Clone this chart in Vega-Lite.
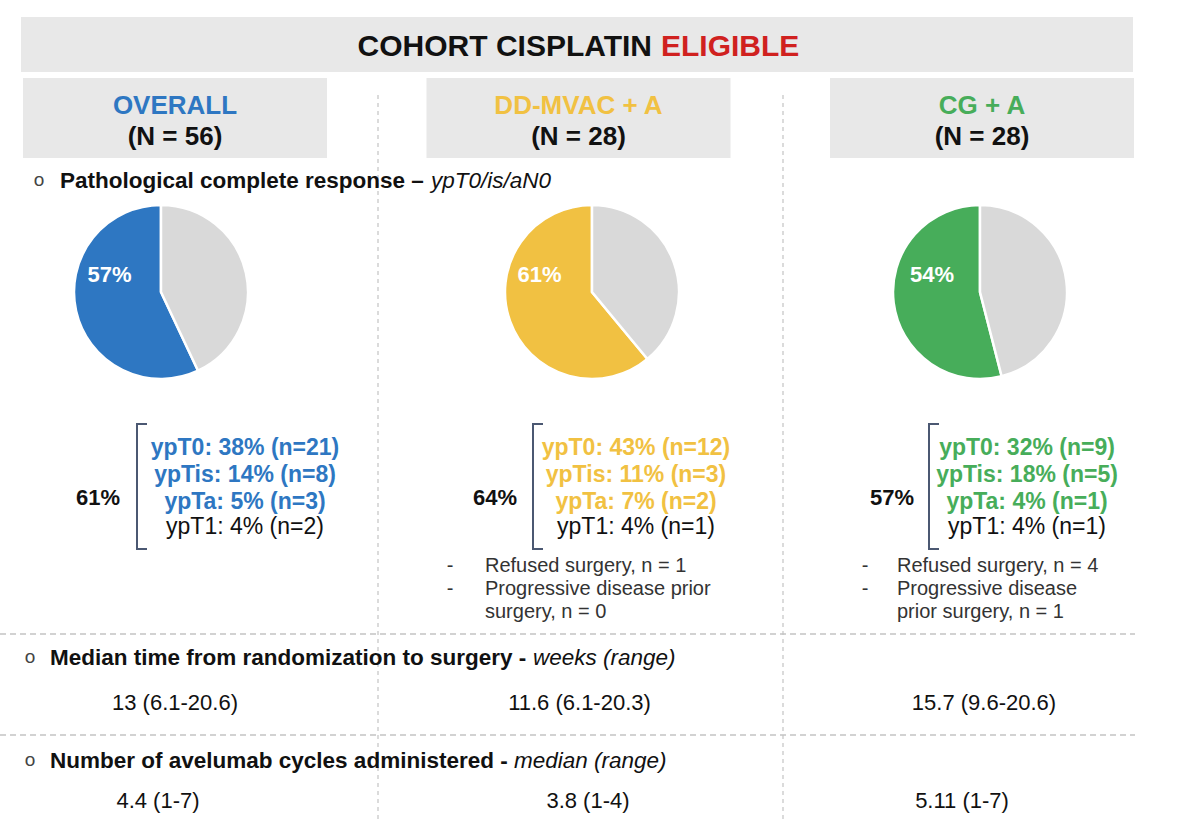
{
  "$schema": "https://vega.github.io/schema/vega-lite/v6.json",
  "width": 1200,
  "height": 820,
  "autosize": "none",
  "padding": 0,
  "background": "#ffffff",
  "config": {"view": {"stroke": null}, "font": "Liberation Sans"},
  "resolve": {"scale": {"x": "independent"}},
  "data": {"values": [
    {"kind": "banner", "group": "OVERALL", "group2": "CG + A", "section": "title"},
    {"kind": "title", "group": "DD-MVAC + A", "section": "title", "text": "COHORT CISPLATIN"},
    {"kind": "titleRed", "group": "DD-MVAC + A", "section": "title", "text": "ELIGIBLE"},
    {"kind": "box", "group": "OVERALL", "section": "header"},
    {"kind": "box", "group": "DD-MVAC + A", "section": "header"},
    {"kind": "box", "group": "CG + A", "section": "header"},
    {"kind": "name", "group": "OVERALL", "section": "header", "text": "OVERALL"},
    {"kind": "name", "group": "DD-MVAC + A", "section": "header", "text": "DD-MVAC + A"},
    {"kind": "name", "group": "CG + A", "section": "header", "text": "CG + A"},
    {"kind": "n", "group": "OVERALL", "section": "header", "text": "(N = 56)"},
    {"kind": "n", "group": "DD-MVAC + A", "section": "header", "text": "(N = 28)"},
    {"kind": "n", "group": "CG + A", "section": "header", "text": "(N = 28)"},
    {"kind": "divider", "group": "OVERALL", "section": "title", "section2": "cycles"},
    {"kind": "divider", "group": "DD-MVAC + A", "section": "title", "section2": "cycles"},
    {"kind": "hline1", "group": "OVERALL", "group2": "CG + A", "section": "notes"},
    {"kind": "hline2", "group": "OVERALL", "group2": "CG + A", "section": "time"},
    {"kind": "bullet1", "group": "OVERALL", "section": "pcr", "text": "o"},
    {"kind": "sec1", "group": "OVERALL", "section": "pcr", "text": "Pathological complete response –"},
    {"kind": "ital1", "group": "OVERALL", "section": "pcr", "text": "ypT0/is/aN0"},
    {"kind": "bullet2", "group": "OVERALL", "section": "time", "text": "o"},
    {"kind": "sec2", "group": "OVERALL", "section": "time", "text": "Median time from randomization to surgery -"},
    {"kind": "ital2", "group": "OVERALL", "section": "time", "text": "weeks (range)"},
    {"kind": "bullet3", "group": "OVERALL", "section": "cycles", "text": "o"},
    {"kind": "sec3", "group": "OVERALL", "section": "cycles", "text": "Number of avelumab cycles administered -"},
    {"kind": "ital3", "group": "OVERALL", "section": "cycles", "text": "median (range)"},
    {"kind": "pie", "group": "OVERALL", "section": "pie", "slice": "OVERALL", "pct": 57},
    {"kind": "pie", "group": "OVERALL", "section": "pie", "slice": "Other", "pct": 43},
    {"kind": "pie", "group": "DD-MVAC + A", "section": "pie", "slice": "DD-MVAC + A", "pct": 61},
    {"kind": "pie", "group": "DD-MVAC + A", "section": "pie", "slice": "Other", "pct": 39},
    {"kind": "pie", "group": "CG + A", "section": "pie", "slice": "CG + A", "pct": 54},
    {"kind": "pie", "group": "CG + A", "section": "pie", "slice": "Other", "pct": 46},
    {"kind": "pieLabel", "group": "OVERALL", "section": "pie", "text": "57%"},
    {"kind": "pieLabel", "group": "DD-MVAC + A", "section": "pie", "text": "61%"},
    {"kind": "pieLabel", "group": "CG + A", "section": "pie", "text": "54%"},
    {"kind": "pct", "group": "OVERALL", "section": "breakdown", "text": "61%"},
    {"kind": "pct", "group": "DD-MVAC + A", "section": "breakdown", "text": "64%"},
    {"kind": "pct", "group": "CG + A", "section": "breakdown", "text": "57%"},
    {"kind": "bracket", "group": "OVERALL", "section": "breakdown"},
    {"kind": "bracket", "group": "DD-MVAC + A", "section": "breakdown"},
    {"kind": "bracket", "group": "CG + A", "section": "breakdown"},
    {"kind": "bold", "group": "OVERALL", "section": "breakdown", "text": "ypT0: 38% (n=21)\nypTis: 14% (n=8)\nypTa: 5% (n=3)"},
    {"kind": "bold", "group": "DD-MVAC + A", "section": "breakdown", "text": "ypT0: 43% (n=12)\nypTis: 11% (n=3)\nypTa: 7% (n=2)"},
    {"kind": "bold", "group": "CG + A", "section": "breakdown", "text": "ypT0: 32% (n=9)\nypTis: 18% (n=5)\nypTa: 4% (n=1)"},
    {"kind": "t1", "group": "OVERALL", "section": "breakdown", "text": "ypT1: 4% (n=2)"},
    {"kind": "t1", "group": "DD-MVAC + A", "section": "breakdown", "text": "ypT1: 4% (n=1)"},
    {"kind": "t1", "group": "CG + A", "section": "breakdown", "text": "ypT1: 4% (n=1)"},
    {"kind": "noteBullet", "group": "DD-MVAC + A", "section": "notes", "text": "-\n-"},
    {"kind": "noteBullet", "group": "CG + A", "section": "notes", "text": "-\n-"},
    {"kind": "note", "group": "DD-MVAC + A", "section": "notes", "text": "Refused surgery, n = 1\nProgressive disease prior\nsurgery, n = 0"},
    {"kind": "note", "group": "CG + A", "section": "notes", "text": "Refused surgery, n = 4\nProgressive disease\nprior surgery, n = 1"},
    {"kind": "time", "group": "OVERALL", "section": "time", "text": "13 (6.1-20.6)"},
    {"kind": "time", "group": "DD-MVAC + A", "section": "time", "text": "11.6 (6.1-20.3)"},
    {"kind": "time", "group": "CG + A", "section": "time", "text": "15.7 (9.6-20.6)"},
    {"kind": "cycles", "group": "OVERALL", "section": "cycles", "text": "4.4 (1-7)"},
    {"kind": "cycles", "group": "DD-MVAC + A", "section": "cycles", "text": "3.8 (1-4)"},
    {"kind": "cycles", "group": "CG + A", "section": "cycles", "text": "5.11 (1-7)"}
  ]},
  "layer": [
    {"transform": [{"filter": "datum.kind === 'banner'"}],
     "mark": {"type": "rect", "color": "#e8e8e8", "height": 55, "yOffset": -0.5},
     "encoding": {
       "x": {"field": "group", "type": "nominal", "axis": null, "scale": {"type": "point", "domain": ["OVERALL", "DD-MVAC + A", "CG + A"], "range": [21, 1133], "padding": 0}},
       "x2": {"field": "group2"},
       "y": {"field": "section", "type": "nominal", "axis": null, "scale": {"type": "point", "domain": ["title", "header", "pcr", "pie", "breakdown", "notes", "time", "cycles"], "range": [45, 797], "padding": 0}}}},
    {"transform": [{"filter": "datum.kind === 'box'"}],
     "mark": {"type": "rect", "color": "#e8e8e8", "width": 304, "height": 80, "yOffset": -34.4},
     "encoding": {
       "x": {"field": "group", "type": "nominal", "axis": null, "scale": {"type": "point", "domain": ["OVERALL", "DD-MVAC + A", "CG + A"], "range": [175, 982], "padding": 0}},
       "y": {"field": "section", "type": "nominal", "axis": null, "scale": {"type": "point", "domain": ["title", "header", "pcr", "pie", "breakdown", "notes", "time", "cycles"], "range": [45, 797], "padding": 0}}}},
    {"transform": [{"filter": "datum.kind === 'divider'"}],
     "mark": {"type": "rule", "color": "#c4c4c4", "strokeWidth": 1.2, "strokeDash": [4, 4], "yOffset": 50, "y2Offset": 23},
     "encoding": {
       "x": {"field": "group", "type": "nominal", "axis": null, "scale": {"type": "point", "domain": ["OVERALL", "DD-MVAC + A", "CG + A"], "range": [378, 1188], "padding": 0}},
       "y": {"field": "section", "type": "nominal", "axis": null, "scale": {"type": "point", "domain": ["title", "header", "pcr", "pie", "breakdown", "notes", "time", "cycles"], "range": [45, 797], "padding": 0}},
       "y2": {"field": "section2"}}},
    {"transform": [{"filter": "datum.kind === 'hline1'"}],
     "mark": {"type": "rule", "color": "#c4c4c4", "strokeWidth": 1.5, "strokeDash": [6, 4], "yOffset": 51.9},
     "encoding": {
       "x": {"field": "group", "type": "nominal", "axis": null, "scale": {"type": "point", "domain": ["OVERALL", "DD-MVAC + A", "CG + A"], "range": [0, 1135], "padding": 0}},
       "x2": {"field": "group2"},
       "y": {"field": "section", "type": "nominal", "axis": null, "scale": {"type": "point", "domain": ["title", "header", "pcr", "pie", "breakdown", "notes", "time", "cycles"], "range": [45, 797], "padding": 0}}}},
    {"transform": [{"filter": "datum.kind === 'hline2'"}],
     "mark": {"type": "rule", "color": "#c4c4c4", "strokeWidth": 1.5, "strokeDash": [6, 4], "yOffset": 45.4},
     "encoding": {
       "x": {"field": "group", "type": "nominal", "axis": null, "scale": {"type": "point", "domain": ["OVERALL", "DD-MVAC + A", "CG + A"], "range": [0, 1135], "padding": 0}},
       "x2": {"field": "group2"},
       "y": {"field": "section", "type": "nominal", "axis": null, "scale": {"type": "point", "domain": ["title", "header", "pcr", "pie", "breakdown", "notes", "time", "cycles"], "range": [45, 797], "padding": 0}}}},
    {"transform": [{"filter": "datum.kind === 'title'"}],
     "mark": {"type": "text", "align": "right", "baseline": "middle", "fontSize": 30, "fontWeight": "bold", "color": "#111111", "dy": 2},
     "encoding": {
       "x": {"field": "group", "type": "nominal", "axis": null, "scale": {"type": "point", "domain": ["OVERALL", "DD-MVAC + A", "CG + A"], "range": [0, 1304], "padding": 0}},
       "y": {"field": "section", "type": "nominal", "axis": null, "scale": {"type": "point", "domain": ["title", "header", "pcr", "pie", "breakdown", "notes", "time", "cycles"], "range": [45, 797], "padding": 0}},
       "text": {"field": "text"}}},
    {"transform": [{"filter": "datum.kind === 'titleRed'"}],
     "mark": {"type": "text", "align": "left", "baseline": "middle", "fontSize": 30, "fontWeight": "bold", "color": "#d0211f", "dy": 2},
     "encoding": {
       "x": {"field": "group", "type": "nominal", "axis": null, "scale": {"type": "point", "domain": ["OVERALL", "DD-MVAC + A", "CG + A"], "range": [0, 1322], "padding": 0}},
       "y": {"field": "section", "type": "nominal", "axis": null, "scale": {"type": "point", "domain": ["title", "header", "pcr", "pie", "breakdown", "notes", "time", "cycles"], "range": [45, 797], "padding": 0}},
       "text": {"field": "text"}}},
    {"transform": [{"filter": "datum.kind === 'name'"}],
     "mark": {"type": "text", "align": "center", "baseline": "middle", "fontSize": 26, "fontWeight": "bold", "dy": -46.7},
     "encoding": {
       "x": {"field": "group", "type": "nominal", "axis": null, "scale": {"type": "point", "domain": ["OVERALL", "DD-MVAC + A", "CG + A"], "range": [175, 982], "padding": 0}},
       "y": {"field": "section", "type": "nominal", "axis": null, "scale": {"type": "point", "domain": ["title", "header", "pcr", "pie", "breakdown", "notes", "time", "cycles"], "range": [45, 797], "padding": 0}},
       "color": {"field": "group", "type": "nominal", "legend": null, "scale": {"domain": ["OVERALL", "DD-MVAC + A", "CG + A", "Other"], "range": ["#2e77c2", "#f1c142", "#47ad5a", "#d9d9d9"]}},
       "text": {"field": "text"}}},
    {"transform": [{"filter": "datum.kind === 'n'"}],
     "mark": {"type": "text", "align": "center", "baseline": "middle", "fontSize": 26, "fontWeight": "bold", "color": "#111111", "dy": -15.1},
     "encoding": {
       "x": {"field": "group", "type": "nominal", "axis": null, "scale": {"type": "point", "domain": ["OVERALL", "DD-MVAC + A", "CG + A"], "range": [175, 982], "padding": 0}},
       "y": {"field": "section", "type": "nominal", "axis": null, "scale": {"type": "point", "domain": ["title", "header", "pcr", "pie", "breakdown", "notes", "time", "cycles"], "range": [45, 797], "padding": 0}},
       "text": {"field": "text"}}},
    {"transform": [{"filter": "datum.kind === 'bullet1'"}],
     "mark": {"type": "text", "align": "center", "baseline": "middle", "fontSize": 19, "color": "#444444", "dy": -79.5},
     "encoding": {
       "x": {"field": "group", "type": "nominal", "axis": null, "scale": {"type": "point", "domain": ["OVERALL", "DD-MVAC + A", "CG + A"], "range": [39, 1000], "padding": 0}},
       "y": {"field": "section", "type": "nominal", "axis": null, "scale": {"type": "point", "domain": ["title", "header", "pcr", "pie", "breakdown", "notes", "time", "cycles"], "range": [45, 797], "padding": 0}},
       "text": {"field": "text"}}},
    {"transform": [{"filter": "datum.kind === 'sec1'"}],
     "mark": {"type": "text", "align": "left", "baseline": "middle", "fontSize": 22.5, "fontWeight": "bold", "color": "#111111", "dy": -78.6},
     "encoding": {
       "x": {"field": "group", "type": "nominal", "axis": null, "scale": {"type": "point", "domain": ["OVERALL", "DD-MVAC + A", "CG + A"], "range": [60, 1000], "padding": 0}},
       "y": {"field": "section", "type": "nominal", "axis": null, "scale": {"type": "point", "domain": ["title", "header", "pcr", "pie", "breakdown", "notes", "time", "cycles"], "range": [45, 797], "padding": 0}},
       "text": {"field": "text"}}},
    {"transform": [{"filter": "datum.kind === 'ital1'"}],
     "mark": {"type": "text", "align": "left", "baseline": "middle", "fontSize": 22.5, "fontStyle": "italic", "color": "#111111", "dy": -78.6},
     "encoding": {
       "x": {"field": "group", "type": "nominal", "axis": null, "scale": {"type": "point", "domain": ["OVERALL", "DD-MVAC + A", "CG + A"], "range": [431, 1000], "padding": 0}},
       "y": {"field": "section", "type": "nominal", "axis": null, "scale": {"type": "point", "domain": ["title", "header", "pcr", "pie", "breakdown", "notes", "time", "cycles"], "range": [45, 797], "padding": 0}},
       "text": {"field": "text"}}},
    {"transform": [{"filter": "datum.kind === 'bullet2'"}],
     "mark": {"type": "text", "align": "center", "baseline": "middle", "fontSize": 19, "color": "#444444", "dy": -32.5},
     "encoding": {
       "x": {"field": "group", "type": "nominal", "axis": null, "scale": {"type": "point", "domain": ["OVERALL", "DD-MVAC + A", "CG + A"], "range": [30, 1000], "padding": 0}},
       "y": {"field": "section", "type": "nominal", "axis": null, "scale": {"type": "point", "domain": ["title", "header", "pcr", "pie", "breakdown", "notes", "time", "cycles"], "range": [45, 797], "padding": 0}},
       "text": {"field": "text"}}},
    {"transform": [{"filter": "datum.kind === 'sec2'"}],
     "mark": {"type": "text", "align": "left", "baseline": "middle", "fontSize": 22.5, "fontWeight": "bold", "color": "#111111", "dy": -31.6},
     "encoding": {
       "x": {"field": "group", "type": "nominal", "axis": null, "scale": {"type": "point", "domain": ["OVERALL", "DD-MVAC + A", "CG + A"], "range": [50, 1000], "padding": 0}},
       "y": {"field": "section", "type": "nominal", "axis": null, "scale": {"type": "point", "domain": ["title", "header", "pcr", "pie", "breakdown", "notes", "time", "cycles"], "range": [45, 797], "padding": 0}},
       "text": {"field": "text"}}},
    {"transform": [{"filter": "datum.kind === 'ital2'"}],
     "mark": {"type": "text", "align": "left", "baseline": "middle", "fontSize": 22.5, "fontStyle": "italic", "color": "#111111", "dy": -31.6},
     "encoding": {
       "x": {"field": "group", "type": "nominal", "axis": null, "scale": {"type": "point", "domain": ["OVERALL", "DD-MVAC + A", "CG + A"], "range": [533, 1000], "padding": 0}},
       "y": {"field": "section", "type": "nominal", "axis": null, "scale": {"type": "point", "domain": ["title", "header", "pcr", "pie", "breakdown", "notes", "time", "cycles"], "range": [45, 797], "padding": 0}},
       "text": {"field": "text"}}},
    {"transform": [{"filter": "datum.kind === 'bullet3'"}],
     "mark": {"type": "text", "align": "center", "baseline": "middle", "fontSize": 19, "color": "#444444", "dy": -36.6},
     "encoding": {
       "x": {"field": "group", "type": "nominal", "axis": null, "scale": {"type": "point", "domain": ["OVERALL", "DD-MVAC + A", "CG + A"], "range": [30, 1000], "padding": 0}},
       "y": {"field": "section", "type": "nominal", "axis": null, "scale": {"type": "point", "domain": ["title", "header", "pcr", "pie", "breakdown", "notes", "time", "cycles"], "range": [45, 797], "padding": 0}},
       "text": {"field": "text"}}},
    {"transform": [{"filter": "datum.kind === 'sec3'"}],
     "mark": {"type": "text", "align": "left", "baseline": "middle", "fontSize": 22.5, "fontWeight": "bold", "color": "#111111", "dy": -35.7},
     "encoding": {
       "x": {"field": "group", "type": "nominal", "axis": null, "scale": {"type": "point", "domain": ["OVERALL", "DD-MVAC + A", "CG + A"], "range": [50, 1000], "padding": 0}},
       "y": {"field": "section", "type": "nominal", "axis": null, "scale": {"type": "point", "domain": ["title", "header", "pcr", "pie", "breakdown", "notes", "time", "cycles"], "range": [45, 797], "padding": 0}},
       "text": {"field": "text"}}},
    {"transform": [{"filter": "datum.kind === 'ital3'"}],
     "mark": {"type": "text", "align": "left", "baseline": "middle", "fontSize": 22.5, "fontStyle": "italic", "color": "#111111", "dy": -35.7},
     "encoding": {
       "x": {"field": "group", "type": "nominal", "axis": null, "scale": {"type": "point", "domain": ["OVERALL", "DD-MVAC + A", "CG + A"], "range": [514, 1000], "padding": 0}},
       "y": {"field": "section", "type": "nominal", "axis": null, "scale": {"type": "point", "domain": ["title", "header", "pcr", "pie", "breakdown", "notes", "time", "cycles"], "range": [45, 797], "padding": 0}},
       "text": {"field": "text"}}},
    {"transform": [
       {"filter": "datum.kind === 'pie' && datum.group !== 'DD-MVAC + A'"},
       {"stack": "pct", "groupby": ["group"], "sort": [{"field": "pct", "order": "ascending"}], "offset": "normalize", "as": ["a0", "a1"]}],
     "mark": {"type": "arc", "outerRadius": 87, "innerRadius": 0, "stroke": "#ffffff", "strokeWidth": 2.5, "yOffset": -75.3},
     "encoding": {
       "x": {"field": "group", "type": "nominal", "axis": null, "scale": {"type": "point", "domain": ["OVERALL", "DD-MVAC + A", "CG + A"], "range": [161, 980], "padding": 0}},
       "y": {"field": "section", "type": "nominal", "axis": null, "scale": {"type": "point", "domain": ["title", "header", "pcr", "pie", "breakdown", "notes", "time", "cycles"], "range": [45, 797], "padding": 0}},
       "theta": {"field": "a0", "type": "quantitative", "scale": {"domain": [0, 1], "range": [0, 6.283185307]}},
       "theta2": {"field": "a1"},
       "color": {"field": "slice", "type": "nominal", "legend": null, "scale": {"domain": ["OVERALL", "DD-MVAC + A", "CG + A", "Other"], "range": ["#2e77c2", "#f1c142", "#47ad5a", "#d9d9d9"]}}}},
    {"transform": [
       {"filter": "datum.kind === 'pie' && datum.group === 'DD-MVAC + A'"},
       {"stack": "pct", "groupby": ["group"], "sort": [{"field": "pct", "order": "ascending"}], "offset": "normalize", "as": ["a0", "a1"]}],
     "mark": {"type": "arc", "outerRadius": 87, "innerRadius": 0, "stroke": "#ffffff", "strokeWidth": 2.5, "yOffset": -75.3},
     "encoding": {
       "x": {"field": "group", "type": "nominal", "axis": null, "scale": {"type": "point", "domain": ["OVERALL", "DD-MVAC + A", "CG + A"], "range": [0, 1184], "padding": 0}},
       "y": {"field": "section", "type": "nominal", "axis": null, "scale": {"type": "point", "domain": ["title", "header", "pcr", "pie", "breakdown", "notes", "time", "cycles"], "range": [45, 797], "padding": 0}},
       "theta": {"field": "a0", "type": "quantitative", "scale": {"domain": [0, 1], "range": [0, 6.283185307]}},
       "theta2": {"field": "a1"},
       "color": {"field": "slice", "type": "nominal", "legend": null, "scale": {"domain": ["OVERALL", "DD-MVAC + A", "CG + A", "Other"], "range": ["#2e77c2", "#f1c142", "#47ad5a", "#d9d9d9"]}}}},
    {"transform": [{"filter": "datum.kind === 'pieLabel' && datum.group !== 'DD-MVAC + A'"}],
     "mark": {"type": "text", "align": "center", "baseline": "middle", "fontSize": 22, "fontWeight": "bold", "color": "#ffffff", "dy": -92.7},
     "encoding": {
       "x": {"field": "group", "type": "nominal", "axis": null, "scale": {"type": "point", "domain": ["OVERALL", "DD-MVAC + A", "CG + A"], "range": [109.5, 932], "padding": 0}},
       "y": {"field": "section", "type": "nominal", "axis": null, "scale": {"type": "point", "domain": ["title", "header", "pcr", "pie", "breakdown", "notes", "time", "cycles"], "range": [45, 797], "padding": 0}},
       "text": {"field": "text"}}},
    {"transform": [{"filter": "datum.kind === 'pieLabel' && datum.group === 'DD-MVAC + A'"}],
     "mark": {"type": "text", "align": "center", "baseline": "middle", "fontSize": 22, "fontWeight": "bold", "color": "#ffffff", "dy": -92.7},
     "encoding": {
       "x": {"field": "group", "type": "nominal", "axis": null, "scale": {"type": "point", "domain": ["OVERALL", "DD-MVAC + A", "CG + A"], "range": [0, 1079], "padding": 0}},
       "y": {"field": "section", "type": "nominal", "axis": null, "scale": {"type": "point", "domain": ["title", "header", "pcr", "pie", "breakdown", "notes", "time", "cycles"], "range": [45, 797], "padding": 0}},
       "text": {"field": "text"}}},
    {"transform": [{"filter": "datum.kind === 'pct'"}],
     "mark": {"type": "text", "align": "center", "baseline": "middle", "fontSize": 22, "fontWeight": "bold", "color": "#111111", "dy": 23.4},
     "encoding": {
       "x": {"field": "group", "type": "nominal", "axis": null, "scale": {"type": "point", "domain": ["OVERALL", "DD-MVAC + A", "CG + A"], "range": [98, 892], "padding": 0}},
       "y": {"field": "section", "type": "nominal", "axis": null, "scale": {"type": "point", "domain": ["title", "header", "pcr", "pie", "breakdown", "notes", "time", "cycles"], "range": [45, 797], "padding": 0}},
       "text": {"field": "text"}}},
    {"transform": [{"filter": "datum.kind === 'bracket'"}],
     "mark": {"type": "rule", "color": "#4b5872", "strokeWidth": 2, "yOffset": -50.7, "y2Offset": 74.3},
     "encoding": {
       "x": {"field": "group", "type": "nominal", "axis": null, "scale": {"type": "point", "domain": ["OVERALL", "DD-MVAC + A", "CG + A"], "range": [137, 929], "padding": 0}},
       "y": {"field": "section", "type": "nominal", "axis": null, "scale": {"type": "point", "domain": ["title", "header", "pcr", "pie", "breakdown", "notes", "time", "cycles"], "range": [45, 797], "padding": 0}},
       "y2": {"field": "section"}}},
    {"transform": [{"filter": "datum.kind === 'bracket'"}],
     "mark": {"type": "rule", "color": "#4b5872", "strokeWidth": 2, "xOffset": -1, "x2Offset": 10, "yOffset": -50.7},
     "encoding": {
       "x": {"field": "group", "type": "nominal", "axis": null, "scale": {"type": "point", "domain": ["OVERALL", "DD-MVAC + A", "CG + A"], "range": [137, 929], "padding": 0}},
       "x2": {"field": "group"},
       "y": {"field": "section", "type": "nominal", "axis": null, "scale": {"type": "point", "domain": ["title", "header", "pcr", "pie", "breakdown", "notes", "time", "cycles"], "range": [45, 797], "padding": 0}}}},
    {"transform": [{"filter": "datum.kind === 'bracket'"}],
     "mark": {"type": "rule", "color": "#4b5872", "strokeWidth": 2, "xOffset": -1, "x2Offset": 10, "yOffset": 74.3},
     "encoding": {
       "x": {"field": "group", "type": "nominal", "axis": null, "scale": {"type": "point", "domain": ["OVERALL", "DD-MVAC + A", "CG + A"], "range": [137, 929], "padding": 0}},
       "x2": {"field": "group"},
       "y": {"field": "section", "type": "nominal", "axis": null, "scale": {"type": "point", "domain": ["title", "header", "pcr", "pie", "breakdown", "notes", "time", "cycles"], "range": [45, 797], "padding": 0}}}},
    {"transform": [{"filter": "datum.kind === 'bold'"}],
     "mark": {"type": "text", "align": "center", "baseline": "middle", "fontSize": 23, "fontWeight": "bold", "lineBreak": "\n", "lineHeight": 27, "dy": -27},
     "encoding": {
       "x": {"field": "group", "type": "nominal", "axis": null, "scale": {"type": "point", "domain": ["OVERALL", "DD-MVAC + A", "CG + A"], "range": [245, 1027], "padding": 0}},
       "y": {"field": "section", "type": "nominal", "axis": null, "scale": {"type": "point", "domain": ["title", "header", "pcr", "pie", "breakdown", "notes", "time", "cycles"], "range": [45, 797], "padding": 0}},
       "color": {"field": "group", "type": "nominal", "legend": null, "scale": {"domain": ["OVERALL", "DD-MVAC + A", "CG + A", "Other"], "range": ["#2e77c2", "#f1c142", "#47ad5a", "#d9d9d9"]}},
       "text": {"field": "text"}}},
    {"transform": [{"filter": "datum.kind === 't1'"}],
     "mark": {"type": "text", "align": "center", "baseline": "middle", "fontSize": 23, "color": "#111111", "dy": 52.3},
     "encoding": {
       "x": {"field": "group", "type": "nominal", "axis": null, "scale": {"type": "point", "domain": ["OVERALL", "DD-MVAC + A", "CG + A"], "range": [245, 1027], "padding": 0}},
       "y": {"field": "section", "type": "nominal", "axis": null, "scale": {"type": "point", "domain": ["title", "header", "pcr", "pie", "breakdown", "notes", "time", "cycles"], "range": [45, 797], "padding": 0}},
       "text": {"field": "text"}}},
    {"transform": [{"filter": "datum.kind === 'noteBullet'"}],
     "mark": {"type": "text", "align": "center", "baseline": "middle", "fontSize": 20, "color": "#333333", "lineBreak": "\n", "lineHeight": 23, "dy": -16.1},
     "encoding": {
       "x": {"field": "group", "type": "nominal", "axis": null, "scale": {"type": "point", "domain": ["OVERALL", "DD-MVAC + A", "CG + A"], "range": [35, 865], "padding": 0}},
       "y": {"field": "section", "type": "nominal", "axis": null, "scale": {"type": "point", "domain": ["title", "header", "pcr", "pie", "breakdown", "notes", "time", "cycles"], "range": [45, 797], "padding": 0}},
       "text": {"field": "text"}}},
    {"transform": [{"filter": "datum.kind === 'note'"}],
     "mark": {"type": "text", "align": "left", "baseline": "middle", "fontSize": 20, "color": "#333333", "lineBreak": "\n", "lineHeight": 23, "dy": -16.1},
     "encoding": {
       "x": {"field": "group", "type": "nominal", "axis": null, "scale": {"type": "point", "domain": ["OVERALL", "DD-MVAC + A", "CG + A"], "range": [73, 897], "padding": 0}},
       "y": {"field": "section", "type": "nominal", "axis": null, "scale": {"type": "point", "domain": ["title", "header", "pcr", "pie", "breakdown", "notes", "time", "cycles"], "range": [45, 797], "padding": 0}},
       "text": {"field": "text"}}},
    {"transform": [{"filter": "datum.kind === 'time'"}],
     "mark": {"type": "text", "align": "center", "baseline": "middle", "fontSize": 22, "color": "#111111", "dy": 13.4},
     "encoding": {
       "x": {"field": "group", "type": "nominal", "axis": null, "scale": {"type": "point", "domain": ["OVERALL", "DD-MVAC + A", "CG + A"], "range": [175, 984], "padding": 0}},
       "y": {"field": "section", "type": "nominal", "axis": null, "scale": {"type": "point", "domain": ["title", "header", "pcr", "pie", "breakdown", "notes", "time", "cycles"], "range": [45, 797], "padding": 0}},
       "text": {"field": "text"}}},
    {"transform": [{"filter": "datum.kind === 'cycles' && datum.group !== 'DD-MVAC + A'"}],
     "mark": {"type": "text", "align": "center", "baseline": "middle", "fontSize": 22, "color": "#111111", "dy": 4.3},
     "encoding": {
       "x": {"field": "group", "type": "nominal", "axis": null, "scale": {"type": "point", "domain": ["OVERALL", "DD-MVAC + A", "CG + A"], "range": [158, 962], "padding": 0}},
       "y": {"field": "section", "type": "nominal", "axis": null, "scale": {"type": "point", "domain": ["title", "header", "pcr", "pie", "breakdown", "notes", "time", "cycles"], "range": [45, 797], "padding": 0}},
       "text": {"field": "text"}}},
    {"transform": [{"filter": "datum.kind === 'cycles' && datum.group === 'DD-MVAC + A'"}],
     "mark": {"type": "text", "align": "center", "baseline": "middle", "fontSize": 22, "color": "#111111", "dy": 4.3},
     "encoding": {
       "x": {"field": "group", "type": "nominal", "axis": null, "scale": {"type": "point", "domain": ["OVERALL", "DD-MVAC + A", "CG + A"], "range": [0, 1176], "padding": 0}},
       "y": {"field": "section", "type": "nominal", "axis": null, "scale": {"type": "point", "domain": ["title", "header", "pcr", "pie", "breakdown", "notes", "time", "cycles"], "range": [45, 797], "padding": 0}},
       "text": {"field": "text"}}}
  ]
}
